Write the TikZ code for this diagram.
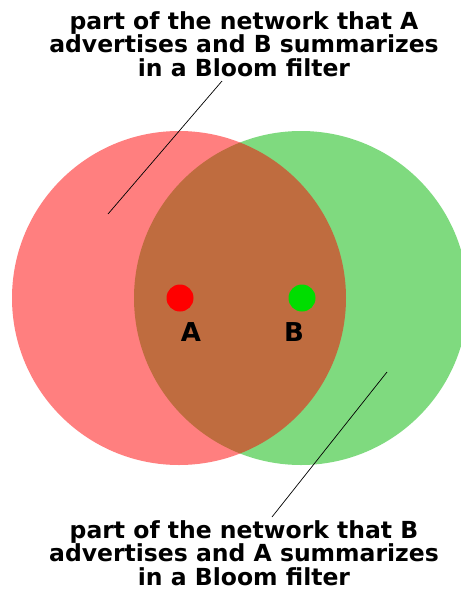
\documentclass[tikz,border=0pt]{standalone}
\usepackage{fontspec}
\setmainfont{DejaVu Sans}
\usepackage{xcolor}
\definecolor{setred}{RGB}{255,0,0}
\definecolor{setgreen}{RGB}{0,181,0}
\definecolor{dotgreen}{RGB}{0,221,0}

\begin{document}
\begin{tikzpicture}[x=1pt, y=-1pt,
    caption/.style={align=center, inner sep=0pt, font=\fontsize{23.5}{23.4}\selectfont\bfseries},
    hostlabel/.style={inner sep=0pt, font=\fontsize{26}{26}\selectfont\bfseries},
    hostdot/.style={circle, inner sep=0pt, minimum size=27pt}]
    \useasboundingbox (0,0) rectangle (461,590);
    \clip (0,0) rectangle (461,590);

    % Sets
    \fill[setgreen, fill opacity=0.5] (301,298) circle[radius=167];
    \fill[setred, fill opacity=0.5] (179,298) circle[radius=167];

    % Hosts
    \node[hostdot, fill=setred] (dotA) at (180,298) {};
    \node[hostdot, fill=dotgreen] (dotB) at (302,298) {};
    \node[hostlabel] (labA) at (191,332) {A};
    \node[hostlabel] (labB) at (294,332) {B};

    % Captions
    \node[caption] (capA) at (244,44) {part of the network that A\\advertises and B summarizes\\in a Bloom filter};
    \node[caption] (capB) at (244,553) {part of the network that B\\advertises and A summarizes\\in a Bloom filter};

    % Pointers
    \coordinate (tipA) at (222,81);
    \coordinate (inA) at (108,214);
    \coordinate (tipB) at (272,517);
    \coordinate (inB) at (387,372);
    \draw[line width=0.7pt] (tipA) -- (inA);
    \draw[line width=0.7pt] (tipB) -- (inB);
\end{tikzpicture}
\end{document}
